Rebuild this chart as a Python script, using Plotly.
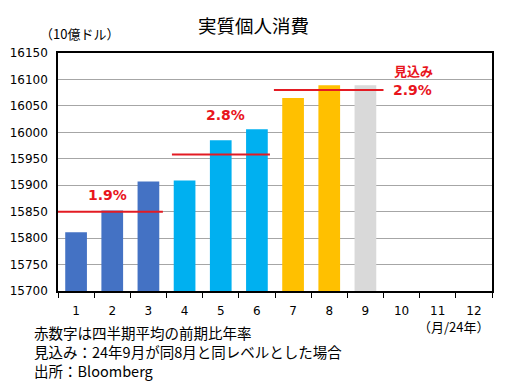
import plotly.graph_objects as go

months = [1, 2, 3, 4, 5, 6, 7, 8, 9, 10, 11, 12]
values = [15811, 15852, 15907, 15909, 15985, 16006, 16065, 16089, 16089, None, None, None]
bar_colors = ["#4472C4"] * 3 + ["#00B0F0"] * 3 + ["#FFC000"] * 2 + ["#D9D9D9"] + ["#D9D9D9"] * 3
q_avg = [15850, 15958, 16080]
q_x0 = [0.5, 3.65, 6.47]
q_x1 = [3.4, 6.36, 9.5]
yticks = [15700, 15750, 15800, 15850, 15900, 15950, 16000, 16050, 16100, 16150]
notes = ["赤数字は四半期平均の前期比年率",
         "見込み：24年9月が同8月と同レベルとした場合",
         "出所：Bloomberg"]

FONT = "DejaVu Sans, Noto Sans CJK JP, sans-serif"
JFONT = "Noto Sans CJK JP, DejaVu Sans, sans-serif"
RED = "#E8141C"

fig = go.Figure()
fig.add_trace(go.Bar(x=months, y=values, marker=dict(color=bar_colors, line=dict(width=0)),
                     width=0.6, showlegend=False, hoverinfo="skip"))

for a, b, v in zip(q_x0, q_x1, q_avg):
    fig.add_shape(type="line", x0=a, x1=b, y0=v, y1=v, xref="x", yref="y",
                  line=dict(color="#E31B23", width=2))

ann = [
    dict(x=1.88, y=15881, text="<b>1.9%</b>"),
    dict(x=5.14, y=16033, text="<b>2.8%</b>"),
    dict(x=10.3, y=16080, text="<b>2.9%</b>"),
]
for a in ann:
    fig.add_annotation(x=a["x"], y=a["y"], text=a["text"], showarrow=False,
                       font=dict(family=FONT, size=14, color=RED), xref="x", yref="y")
fig.add_annotation(x=10.33, y=16116, text="<b>見込み</b>", showarrow=False,
                   font=dict(family=JFONT, size=13, color=RED), xref="x", yref="y")


def px(xp, yp, text, size, xanchor="center", align="center"):
    fig.add_annotation(x=(xp - 58) / 434, y=(291 - yp) / 238, xref="paper", yref="paper",
                       text=text, showarrow=False, xanchor=xanchor, yanchor="middle",
                       align=align, font=dict(family=JFONT, size=size, color="#000"))


px(253, 25, "実質個人消費", 18.5)
px(79, 33, "（10億ドル）", 13)
px(454, 326, "（月/24年）", 13)
px(32, 332.5, notes[0], 14.5, "left", "left")
px(32, 351.5, notes[1], 14.5, "left", "left")
px(32, 370.5, notes[2], 14.5, "left", "left")

fig.update_layout(
    width=508, height=383,
    margin=dict(l=58, r=16, t=53, b=92),
    paper_bgcolor="white", plot_bgcolor="white",
    xaxis=dict(range=[0.5, 12.5], tickvals=months, ticktext=[str(m) for m in months],
               ticks="", showgrid=False, showline=True, linecolor="#000", linewidth=1.5,
               mirror=True, tickfont=dict(family=FONT, size=12, color="#000"),
               ticklabelstandoff=8,
               minor=dict(tickvals=[m + 0.5 for m in range(0, 13)], ticks="outside",
                          ticklen=5, tickcolor="#000", tickwidth=1, showgrid=False),
               zeroline=False, automargin=False),
    yaxis=dict(range=[15700, 16150], tickvals=yticks, ticktext=[str(t) for t in yticks],
               showgrid=True, gridcolor="#A6A6A6",
               gridwidth=1, showline=True, linecolor="#000", linewidth=1.5, mirror=True,
               ticks="", ticklabelstandoff=6,
               tickfont=dict(family=FONT, size=12, color="#000"), zeroline=False,
               automargin=False),
    font=dict(family=FONT),
)

fig.write_html("out.html", config={"displayModeBar": False},
               post_script="document.body.style.margin='0';document.body.style.overflow='hidden';")
